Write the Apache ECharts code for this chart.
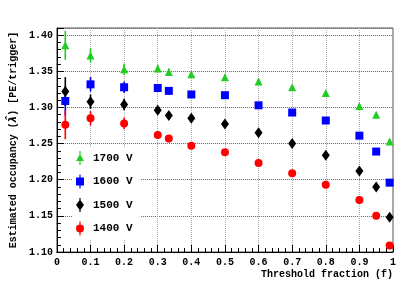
<!DOCTYPE html>
<html><head><meta charset="utf-8">
<script src="https://cdn.jsdelivr.net/npm/echarts@6/dist/echarts.min.js"></script>
<style>html,body{margin:0;padding:0;background:#fff}#c{width:415px;height:281px}</style>
</head><body><div id="c"></div>
<script>
const xVals = [0.025, 0.1, 0.2, 0.3, 0.333, 0.4, 0.5, 0.6, 0.7, 0.8, 0.9, 0.95, 0.99];
const v1700 = [1.386, 1.372, 1.353, 1.354, 1.349, 1.346, 1.342, 1.336, 1.328, 1.320, 1.302, 1.290, 1.253];
const v1600 = [1.309, 1.332, 1.328, 1.327, 1.323, 1.318, 1.317, 1.303, 1.293, 1.282, 1.261, 1.239, 1.196];
const v1500 = [1.322, 1.308, 1.304, 1.296, 1.289, 1.285, 1.277, 1.265, 1.250, 1.234, 1.212, 1.190, 1.148];
const v1400 = [1.276, 1.285, 1.278, 1.262, 1.257, 1.247, 1.238, 1.223, 1.209, 1.193, 1.172, 1.150, 1.109];
const errs  = [0.020, 0.010, 0.008, 0.005, 0.005, 0.004, 0.004, 0.003, 0.003, 0.003, 0.003, 0.003, 0.003];
const labels = ['1700 V', '1600 V', '1500 V', '1400 V'];

const colors = ['#22cc22', '#0000ff', '#000000', '#ff0000'];
const symbols = ['triangle', 'rect', 'diamond', 'circle'];
const sizes = [[8, 8], [8, 8], [8, 11], [8, 8]];
const icons = [
  'path://M3.4,0h1.2v14h-1.2Z M4,3L8,10H0Z',
  'path://M3.4,0h1.2v14h-1.2Z M0,3h8v8h-8Z',
  'path://M3.4,0h1.2v14h-1.2Z M4,1.5L8,7L4,12.5L0,7Z',
  'path://M3.4,0h1.2v14h-1.2Z M0,7a4,4 0 1,1 8,0a4,4 0 1,1 -8,0Z'
];
const all = [v1700, v1600, v1500, v1400];
const mono = '"Liberation Mono", "DejaVu Sans Mono", monospace';

const series = [];
all.forEach((vals, i) => {
  series.push({
    type: 'custom',
    name: labels[i],
    data: xVals.map((x, k) => [x, vals[k], errs[k]]),
    renderItem: function (params, api) {
      const x = api.value(0), y = api.value(1), e = api.value(2);
      const p1 = api.coord([x, y - e]);
      const p2 = api.coord([x, y + e]);
      return {
        type: 'line',
        shape: {x1: p1[0], y1: p1[1], x2: p2[0], y2: p2[1]},
        style: {stroke: colors[i], lineWidth: 1.6}
      };
    },
    z: 3,
    silent: true
  });
  series.push({
    type: 'scatter',
    name: labels[i],
    data: xVals.map((x, k) => [x, vals[k]]),
    symbol: symbols[i],
    symbolSize: sizes[i],
    itemStyle: {color: colors[i], opacity: 1},
    z: 4
  });
});

const chart = echarts.init(document.getElementById('c'));
chart.setOption({
  animation: false,
  backgroundColor: '#fff',
  grid: {left: 53, right: 22, top: 28, bottom: 29, show: true, borderColor: '#555', borderWidth: 1, backgroundColor: 'transparent'},
  legend: {
    orient: 'vertical',
    left: 72, top: 147,
    itemWidth: 8, itemHeight: 14,
    itemGap: 9.5,
    padding: [4, 8, 4, 4],
    backgroundColor: '#fff',
    data: labels.map((l, i) => ({name: l, icon: icons[i], itemStyle: {color: colors[i]}})),
    textStyle: {fontFamily: mono, fontWeight: 'bold', fontSize: 11, color: '#000', padding: [0, 0, 0, 4]},
    selectedMode: false
  },
  xAxis: {
    type: 'value', min: 0, max: 1, interval: 0.1,
    name: 'Threshold fraction (f)',
    nameLocation: 'end',
    nameGap: 0,
    nameTextStyle: {fontFamily: mono, fontWeight: 'bold', fontSize: 10, color: '#000', align: 'right', verticalAlign: 'top', padding: [17, 0, 0, 0]},
    axisLine: {lineStyle: {color: '#000'}},
    axisTick: {inside: true, length: 7, lineStyle: {color: '#000'}},
    minorTick: {show: true, splitNumber: 5, length: 4, lineStyle: {color: '#000'}},
    axisLabel: {fontFamily: mono, fontWeight: 'bold', fontSize: 10, color: '#000', margin: 5,
      formatter: v => (Math.abs(v) < 1e-9 ? '0' : (Math.abs(v - 1) < 1e-9 ? '1' : v.toFixed(1)))},
    splitLine: {show: true, lineStyle: {color: '#aaa', type: [1, 1], width: 1}}
  },
  yAxis: {
    type: 'value', min: 1.10, max: 1.41, interval: 0.05,
    name: 'Estimated occupancy ({l|λ\u0302}) [PE/trigger]',
    nameLocation: 'middle',
    nameGap: 37,
    nameTextStyle: {fontFamily: mono, fontWeight: 'bold', fontSize: 10, color: '#000',
      rich: {l: {fontFamily: '"DejaVu Sans"', fontStyle: 'italic', fontSize: 10, color: '#000'}}},
    axisLine: {lineStyle: {color: '#000'}},
    axisTick: {inside: true, length: 7, lineStyle: {color: '#000'}},
    minorTick: {show: true, splitNumber: 5, length: 4, lineStyle: {color: '#000'}},
    axisLabel: {fontFamily: mono, fontWeight: 'bold', fontSize: 10, color: '#000', margin: 4, showMaxLabel: false,
      formatter: v => {
        const r = Math.round(v * 100);
        return (r % 5 === 0) ? (r / 100).toFixed(2) : '';
      }},
    splitLine: {show: true, lineStyle: {color: '#666', type: [1, 1], width: 1}}
  },
  series: series
});
</script>
</body></html>
